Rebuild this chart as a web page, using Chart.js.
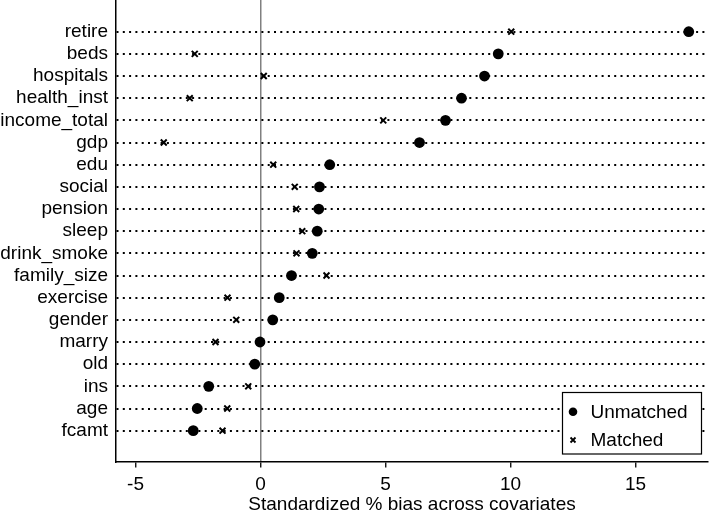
<!DOCTYPE html>
<html>
<head>
<meta charset="utf-8">
<script src="https://cdn.jsdelivr.net/npm/chart.js@4"></script>
<style>
  html, body { margin: 0; padding: 0; background: #fff; }
  canvas { display: block; }
</style>
</head>
<body>
<canvas id="bias_plot" width="710" height="510"></canvas>
<script>
var covariates = ["retire", "beds", "hospitals", "health_inst", "income_total", "gdp",
    "edu", "social", "pension", "sleep", "drink_smoke", "family_size",
    "exercise", "gender", "marry", "old", "ins", "age", "fcamt"];
var unmatched = [17.13, 9.51, 8.96, 8.04, 7.40, 6.36, 2.77, 2.36, 2.33, 2.27,
    2.07, 1.24, 0.75, 0.49, -0.02, -0.23, -2.07, -2.53, -2.69];
var matched = [10.03, -2.63, 0.13, -2.83, 4.91, -3.87, 0.51, 1.37, 1.43, 1.67,
    1.44, 2.64, -1.32, -0.97, -1.80, -0.22, -0.49, -1.33, -1.52];
var xTicks = [-5, 0, 5, 10, 15];

var FONT = "'Liberation Sans', Arial, Helvetica, sans-serif";

function points(vals) {
    return vals.map(function (v, i) { return { x: v, y: i }; });
}

// legend box drawn inside the plot, bottom right
var boxLegend = {
    id: "boxLegend",
    afterDraw: function (chart) {
        var ctx = chart.ctx;
        var x0 = 562.5, y0 = 392.5, w = 139, h = 61.5;
        ctx.save();
        ctx.fillStyle = "#fff";
        ctx.fillRect(x0, y0, w, h);
        ctx.strokeStyle = "#000";
        ctx.lineWidth = 1.2;
        ctx.strokeRect(x0, y0, w, h);
        // marker: filled circle
        ctx.fillStyle = "#000";
        ctx.beginPath();
        ctx.arc(573, 411.7, 4.3, 0, Math.PI * 2);
        ctx.fill();
        // marker: small x
        ctx.lineWidth = 1.8;
        ctx.beginPath();
        ctx.moveTo(570.5, 437.5); ctx.lineTo(575.5, 442.5);
        ctx.moveTo(575.5, 437.5); ctx.lineTo(570.5, 442.5);
        ctx.stroke();
        ctx.font = "19px " + FONT;
        ctx.textBaseline = "alphabetic";
        ctx.textAlign = "left";
        ctx.fillText(chart.data.datasets[0].label, 590.5, 417.5);
        ctx.fillText(chart.data.datasets[1].label, 590.5, 445.5);
        ctx.restore();
    }
};

new Chart(document.getElementById("bias_plot"), {
    type: "scatter",
    data: {
        datasets: [
            {
                label: "Unmatched",
                data: points(unmatched),
                pointStyle: "circle",
                pointRadius: 5.4,
                pointBorderWidth: 0,
                backgroundColor: "#000",
                borderColor: "#000"
            },
            {
                label: "Matched",
                data: points(matched),
                pointStyle: "crossRot",
                pointRadius: 4.2,
                pointBorderWidth: 2,
                backgroundColor: "#000",
                borderColor: "#000"
            }
        ]
    },
    options: {
        responsive: false,
        animation: false,
        layout: { padding: { left: 0, right: 2, top: 0, bottom: 0 }, autoPadding: false },
        plugins: {
            legend: { display: false },
            tooltip: { enabled: false }
        },
        scales: {
            x: {
                type: "linear",
                min: -5.78,
                max: 17.9,
                afterBuildTicks: function (axis) {
                    axis.ticks = xTicks.map(function (v) { return { value: v }; });
                },
                afterFit: function (axis) {
                    axis.height = 48.5;
                    axis.paddingLeft = 0;
                    axis.paddingRight = 0;
                },
                border: { display: true, color: "#000", width: 1.5 },
                grid: {
                    drawOnChartArea: true,
                    drawTicks: true,
                    tickLength: 6,
                    tickColor: "#000",
                    tickWidth: 1.3,
                    lineWidth: 1.5,
                    color: function (c) {
                        return (c.tick && c.tick.value === 0) ? "#808080" : "rgba(0,0,0,0)";
                    }
                },
                ticks: {
                    color: "#000",
                    padding: 6,
                    maxRotation: 0,
                    font: { family: FONT, size: 19 }
                },
                title: {
                    display: true,
                    text: "Standardized % bias across covariates",
                    color: "#000",
                    padding: { top: 0, bottom: 0 },
                    font: { family: FONT, size: 19, lineHeight: 0.6 }
                }
            },
            y: {
                type: "linear",
                reverse: true,
                min: -1.43,
                max: 19.39,
                afterBuildTicks: function (axis) {
                    axis.ticks = covariates.map(function (c, i) { return { value: i }; });
                },
                afterFit: function (axis) {
                    axis.width = 116;
                    axis.paddingTop = 0;
                    axis.paddingBottom = 0;
                },
                border: { display: true, color: "#000", width: 1.5, dash: [2, 4.3] },
                grid: {
                    drawTicks: false,
                    color: "#000",
                    lineWidth: 2
                },
                ticks: {
                    color: "#000",
                    padding: 8,
                    autoSkip: false,
                    font: { family: FONT, size: 19 },
                    callback: function (v) { return covariates[v]; }
                }
            }
        }
    },
    plugins: [boxLegend]
});
</script>
</body>
</html>
